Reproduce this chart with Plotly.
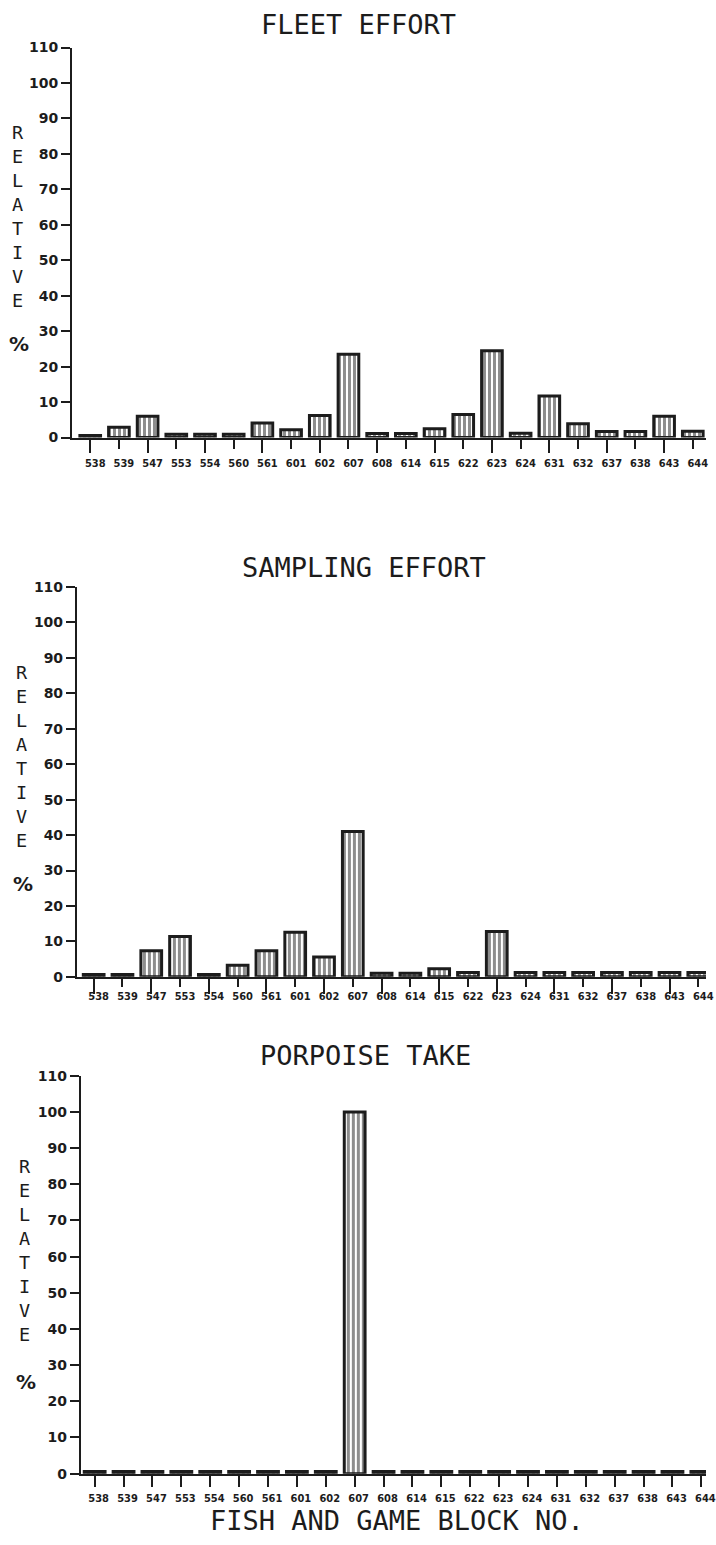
import plotly.graph_objects as go

# Fish and Game block numbers along the x axis
blocks = ["538", "539", "547", "553", "554", "560", "561", "601", "602", "607", "608",
          "614", "615", "622", "623", "624", "631", "632", "637", "638", "643", "644"]

# Relative percentages per block
fleet_effort = [0.6, 2.9, 6.0, 0.9, 0.9, 0.9, 4.1, 2.2, 6.2, 23.5, 1.1,
                1.1, 2.5, 6.5, 24.5, 1.2, 11.7, 3.9, 1.7, 1.7, 6.0, 1.8]
sampling_effort = [0.7, 0.7, 7.4, 11.4, 0.7, 3.3, 7.4, 12.6, 5.6, 41.0, 1.0,
                   1.0, 2.3, 1.2, 12.8, 1.2, 1.2, 1.2, 1.2, 1.2, 1.2, 1.2]
porpoise_take = [0.6, 0.6, 0.6, 0.6, 0.6, 0.6, 0.6, 0.6, 0.6, 100.0, 0.6,
                 0.6, 0.6, 0.6, 0.6, 0.6, 0.6, 0.6, 0.6, 0.6, 0.6, 0.6]

panel_titles = ["FLEET EFFORT", "SAMPLING EFFORT", "PORPOISE TAKE"]
y_ticks = list(range(0, 111, 10))

W, H = 716, 1545
INK = "#1c1c1c"
PLOT_FONT = "DejaVu Sans Mono, Liberation Mono, monospace"
NUM_FONT = "DejaVu Sans, Liberation Sans, sans-serif"
COND_FONT = "DejaVu Sans Condensed, Liberation Sans Narrow, sans-serif"


def px_x(v):
    return v / W


def px_y(v):
    return 1 - v / H


# per-panel geometry (pixels): y-axis x, y of 110 tick, y of 0 tick,
# first category centre, category pitch, short/long tick lengths, label offsets
panels = [
    dict(values=fleet_effort, ax=73, top=40, zero=434, c0=91.5, pitch=29.1,
         short=9, long=14, standoff=5, shift=5, title_y=17, title_x=364,
         lab_x=18, word_y=211, pct=340),
    dict(values=sampling_effort, ax=78, top=585, zero=979, c0=95, pitch=29.2,
         short=8, long=16, standoff=0, shift=5, title_y=565, title_x=369,
         lab_x=22, word_y=756, pct=885),
    dict(values=porpoise_take, ax=82, top=1079, zero=1481, c0=96, pitch=29.3,
         short=11, long=11, standoff=2, shift=4, title_y=1058, title_x=371,
         lab_x=25, word_y=1256, pct=1388),
]

fig = go.Figure()
layout = dict(
    width=W, height=H,
    margin=dict(l=0, r=0, t=0, b=0),
    paper_bgcolor="white", plot_bgcolor="white",
    showlegend=False, bargap=0.3,
    annotations=[],
)

idx = list(range(len(blocks)))
for k, p in enumerate(panels):
    n = k + 1
    xa = "x" if n == 1 else f"x{n}"
    ya = "y" if n == 1 else f"y{n}"
    xo = f"x{n + 3}"
    left = (p["ax"] - p["c0"]) / p["pitch"]
    right = (W - p["c0"]) / p["pitch"]
    ydom = [px_y(p["zero"]), px_y(p["top"])]

    fig.add_trace(go.Bar(
        x=idx, y=p["values"], xaxis=xa, yaxis=ya, width=0.72,
        marker=dict(color="white",
                    line=dict(color=INK, width=3),
                    pattern=dict(shape="|", fgcolor=INK, bgcolor="white",
                                 size=5, solidity=0.6)),
        hoverinfo="skip",
    ))
    # carrier trace for the overlay axis holding the long ticks
    fig.add_trace(go.Scatter(x=idx, y=[None] * len(idx), xaxis=xo, yaxis=ya,
                             mode="markers", hoverinfo="skip"))

    layout[f"xaxis{'' if n == 1 else n}"] = dict(
        domain=[px_x(p["ax"]), 1], anchor=ya, range=[left, right],
        tickmode="array", tickvals=idx, ticktext=blocks,
        ticks="outside", ticklen=p["short"], tickwidth=2, tickcolor=INK,
        showline=True, linewidth=2, linecolor=INK, showgrid=False, zeroline=False,
        tickfont=dict(family=COND_FONT, size=11, color=INK, weight="bold"),
        ticklabelstandoff=p["standoff"], ticklabelshift=p["shift"],
        ticklabeloverflow="allow", tickangle=0, fixedrange=True,
    )
    layout[f"xaxis{n + 3}"] = dict(
        overlaying=xa, anchor=ya, range=[left, right], side="bottom",
        tickmode="array", tickvals=idx[::2],
        ticks="outside", ticklen=p["long"], tickwidth=2, tickcolor=INK,
        showticklabels=False, showline=False, showgrid=False, zeroline=False,
        fixedrange=True,
    )
    layout[f"yaxis{'' if n == 1 else n}"] = dict(
        domain=ydom, anchor=xa, range=[0, 110],
        tickmode="array", tickvals=y_ticks,
        ticks="outside", ticklen=9, tickwidth=2, tickcolor=INK,
        showline=True, linewidth=2, linecolor=INK, showgrid=False, zeroline=False,
        tickfont=dict(family=NUM_FONT, size=14, color=INK, weight="bold"),
        fixedrange=True,
    )

    layout["annotations"].append(dict(
        text=panel_titles[k], xref="paper", yref="paper",
        x=px_x(p["title_x"]), y=px_y(p["title_y"]),
        xanchor="center", yanchor="middle", showarrow=False,
        font=dict(family=PLOT_FONT, size=27, color=INK),
    ))
    # stacked axis word
    layout["annotations"].append(dict(
        text="<br>".join("RELATIVE"), xref="paper", yref="paper",
        x=px_x(p["lab_x"]), y=px_y(p["word_y"]),
        xanchor="center", yanchor="middle", showarrow=False, align="center",
        font=dict(family=PLOT_FONT, size=18.5, color=INK),
    ))
    layout["annotations"].append(dict(
        text="%", xref="paper", yref="paper",
        x=px_x(p["lab_x"] + 1), y=px_y(p["pct"]),
        xanchor="center", yanchor="middle", showarrow=False,
        font=dict(family=NUM_FONT, size=20, color=INK, weight="bold"),
    ))

layout["annotations"].append(dict(
    text="FISH AND GAME BLOCK NO.", xref="paper", yref="paper",
    x=px_x(403), y=px_y(1528), xanchor="center", yanchor="middle",
    showarrow=False, font=dict(family=PLOT_FONT, size=27, color=INK),
))

fig.update_layout(**layout)
fig.write_html("out.html", config={"displayModeBar": False})
